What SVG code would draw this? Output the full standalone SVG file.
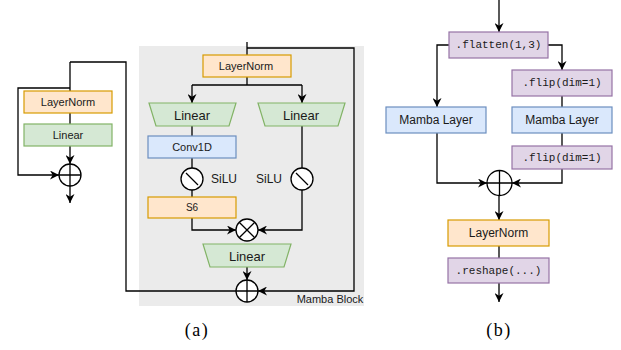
<svg xmlns="http://www.w3.org/2000/svg" width="621" height="350" viewBox="0 0 621 350">
<style>
.ln{fill:none;stroke:#000;stroke-width:1.3}
.org{fill:#ffe6cc;stroke:#d79b00;stroke-width:1.2}
.grn{fill:#d5e8d4;stroke:#82b366;stroke-width:1.2}
.blu{fill:#dae8fc;stroke:#6c8ebf;stroke-width:1.2}
.pur{fill:#e1d5e7;stroke:#9673a6;stroke-width:1.2}
.op{fill:#fff;stroke:#000;stroke-width:1.3}
.t{font-family:"Liberation Sans",Arial,sans-serif;fill:#1a1a1a;text-anchor:middle;dominant-baseline:central}
.m{font-family:"Liberation Mono","DejaVu Sans Mono",monospace;fill:#1a1a1a;text-anchor:middle;dominant-baseline:central;font-size:11px}
.cap{font-family:"Liberation Serif","DejaVu Serif",serif;font-size:18px;fill:#000;text-anchor:middle;letter-spacing:1.5px}
</style>
<defs>
<marker id="ar" viewBox="0 0 10 10" refX="10" refY="5" markerWidth="9" markerHeight="9" markerUnits="userSpaceOnUse" orient="auto">
<path d="M0,0 L10,5 L0,10 L3,5 Z" fill="#000"/>
</marker>
</defs>
<rect x="139" y="46" width="225" height="260" fill="#ebebeb"/>
<text class="t" x="330" y="299" font-size="11">Mamba Block</text>
<g id="connectors">
<path class="ln" d="M70,62 H126 V291 H236"/>
<path class="ln" d="M70,62 V91"/>
<path class="ln" d="M70,88 H18 V175 H59" marker-end="url(#ar)"/>
<path class="ln" d="M70,113 V124"/>
<path class="ln" d="M70,146 V164" marker-end="url(#ar)"/>
<path class="ln" d="M70,186 V203" marker-end="url(#ar)"/>
<path class="ln" d="M247,42 V55"/>
<path class="ln" d="M247,48 H354 V291 H258" marker-end="url(#ar)"/>
<path class="ln" d="M247,77 V85"/>
<path class="ln" d="M192,85 H302"/>
<path class="ln" d="M192,85 V103" marker-end="url(#ar)"/>
<path class="ln" d="M302,85 V103" marker-end="url(#ar)"/>
<path class="ln" d="M192,126 V136"/>
<path class="ln" d="M192,158 V168"/>
<path class="ln" d="M302,126 V168"/>
<path class="ln" d="M192,190 V197"/>
<path class="ln" d="M192,218 V230 H236" marker-end="url(#ar)"/>
<path class="ln" d="M302,190 V230 H258" marker-end="url(#ar)"/>
<path class="ln" d="M247,267 V280" marker-end="url(#ar)"/>
<path class="ln" d="M499,0 V32" marker-end="url(#ar)"/>
<path class="ln" d="M449,45 H437 V107" marker-end="url(#ar)"/>
<path class="ln" d="M548,45 H562 V70" marker-end="url(#ar)"/>
<path class="ln" d="M562,96 V107"/>
<path class="ln" d="M562,133 V146"/>
<path class="ln" d="M437,133 V183 H487" marker-end="url(#ar)"/>
<path class="ln" d="M562,169 V183 H512" marker-end="url(#ar)"/>
<path class="ln" d="M499,196 V220" marker-end="url(#ar)"/>
<path class="ln" d="M499,246 V258"/>
<path class="ln" d="M499,283 V302" marker-end="url(#ar)"/>
</g>
<g id="a-layernorm"><rect class="org" x="24" y="91" width="88" height="22"/><text class="t" x="68" y="102" font-size="11">LayerNorm</text></g>
<g id="a-linear"><rect class="grn" x="24" y="124" width="88" height="22"/><text class="t" x="68" y="135" font-size="11">Linear</text></g>
<g id="a-add"><circle class="op" cx="70" cy="175" r="11"/><path class="ln" d="M59,175 H81 M70,164 V186"/></g>
<g id="m-layernorm"><rect class="org" x="203" y="55" width="88" height="22"/><text class="t" x="246" y="66" font-size="11">LayerNorm</text></g>
<g id="m-linear1"><polygon class="grn" points="149,103 236,103 229,126 156,126"/><text class="t" x="192" y="115" font-size="13">Linear</text></g>
<g id="m-linear2"><polygon class="grn" points="258,103 345,103 338,126 265,126"/><text class="t" x="301" y="115" font-size="13">Linear</text></g>
<g id="m-conv"><rect class="blu" x="148" y="136" width="88" height="22"/><text class="t" x="192" y="147" font-size="11">Conv1D</text></g>
<g id="m-silu1"><circle class="op" cx="192" cy="179" r="11"/><path class="ln" d="M186,173 L198,185"/><text class="t" x="224" y="179" font-size="12">SiLU</text></g>
<g id="m-silu2"><circle class="op" cx="302" cy="179" r="11"/><path class="ln" d="M296,173 L308,185"/><text class="t" x="269" y="179" font-size="12">SiLU</text></g>
<g id="m-s6"><rect class="org" x="148" y="197" width="88" height="21"/><text class="t" x="192" y="207.5" font-size="10">S6</text></g>
<g id="m-mul"><circle class="op" cx="247" cy="230" r="11"/><path class="ln" d="M239.2,222.2 L254.8,237.8 M254.8,222.2 L239.2,237.8"/></g>
<g id="m-linear3"><polygon class="grn" points="203,244 291,244 284,267 210,267"/><text class="t" x="247" y="256" font-size="13">Linear</text></g>
<g id="m-add"><circle class="op" cx="247" cy="291" r="11"/><path class="ln" d="M236,291 H258 M247,280 V302"/></g>
<g id="b-flatten"><rect class="pur" x="449" y="32" width="99" height="26"/><text class="m" x="498.5" y="45">.flatten(1,3)</text></g>
<g id="b-flip1"><rect class="pur" x="512" y="70" width="100" height="26"/><text class="m" x="562" y="83">.flip(dim=1)</text></g>
<g id="b-mamba1"><rect class="blu" x="386" y="107" width="100" height="26"/><text class="t" x="436" y="120" font-size="12">Mamba Layer</text></g>
<g id="b-mamba2"><rect class="blu" x="512" y="107" width="100" height="26"/><text class="t" x="562" y="120" font-size="12">Mamba Layer</text></g>
<g id="b-flip2"><rect class="pur" x="512" y="146" width="100" height="23"/><text class="m" x="562" y="157.5">.flip(dim=1)</text></g>
<g id="b-add"><circle class="op" cx="499.5" cy="183" r="12.5"/><path class="ln" d="M487,183 H512 M499.5,170.5 V195.5"/></g>
<g id="b-layernorm"><rect class="org" x="448" y="220" width="101" height="26"/><text class="t" x="498.5" y="233" font-size="12">LayerNorm</text></g>
<g id="b-reshape"><rect class="pur" x="448" y="258" width="101" height="25"/><text class="m" x="498.5" y="270.5">.reshape(...)</text></g>
<text class="cap" x="197" y="336">(a)</text>
<text class="cap" x="499" y="336">(b)</text>
</svg>
